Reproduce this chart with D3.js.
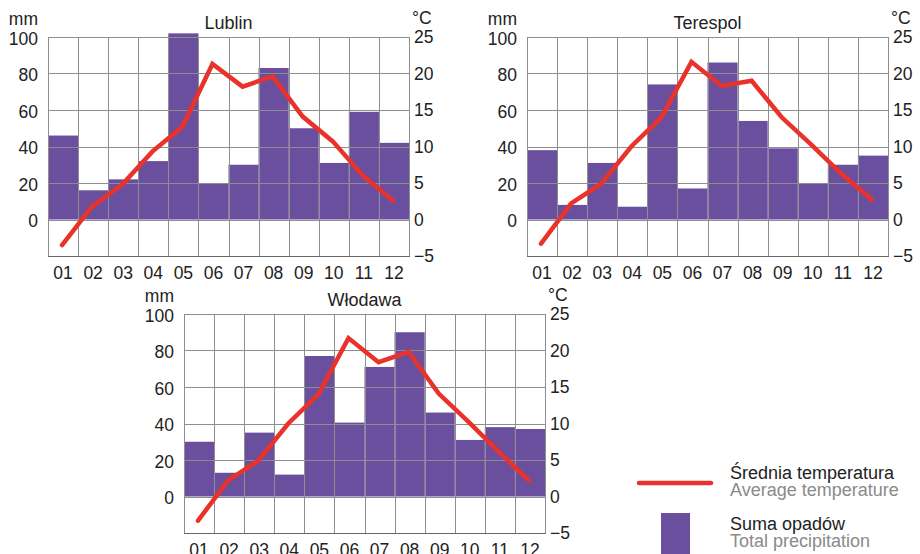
<!DOCTYPE html>
<html>
<head>
<meta charset="utf-8">
<script src="https://cdn.jsdelivr.net/npm/d3@7"></script>
<style>
  html, body { margin: 0; padding: 0; background: #fff; }
  svg { display: block; font-family: "Liberation Sans", Arial, sans-serif; }
</style>
</head>
<body>
<svg id="chart" width="920" height="554"></svg>
<script>
// ---- data ----
const months = ["01","02","03","04","05","06","07","08","09","10","11","12"];
const precipTicks = [0, 20, 40, 60, 80, 100];
const tempTicks = [-5, 0, 5, 10, 15, 20, 25];

const lublinPrecip = [46, 16, 22, 32, 102, 20, 30, 83, 50, 31, 59, 42];
const lublinTemp   = [-3.5, 1.8, 4.8, 9.3, 12.7, 21.3, 18.2, 19.6, 14.1, 10.7, 6.0, 2.6];

const terespolPrecip = [38, 8, 31, 7, 74, 17, 86, 54, 39, 20, 30, 35];
const terespolTemp   = [-3.3, 2.2, 4.9, 10.0, 14.0, 21.6, 18.3, 19.0, 14.0, 10.2, 6.2, 2.7];

const wlodawaPrecip = [30, 13, 35, 12, 77, 40.5, 71, 90, 46, 31, 38, 37];
const wlodawaTemp   = [-3.3, 2.2, 4.9, 10.0, 14.0, 21.7, 18.4, 19.8, 14.1, 10.2, 6.1, 2.2];

const legendLabels = [
  ["Średnia temperatura", "Average temperature"],
  ["Suma opadów", "Total precipitation"]
];

// ---- styles ----
const BAR = "#6a4f9f";
const LINE = "#e8322a";
const GRID = "#8e8e8e";
const AXIS = "#666";
const TEXT = "#222";
const FS = 17.5;

const svg = d3.select("#chart");

function drawChart(cfg) {
  const { title, precip, temp, left, top } = cfg;
  const width = 361, height = 219;
  const g = svg.append("g").attr("transform", `translate(${left},${top})`);

  const x = d3.scaleBand().domain(months).range([0, width]).padding(0);
  const y = d3.scaleLinear().domain([-20, 100]).range([height, 0]);
  const yT = d3.scaleLinear().domain([-5, 25]).range([height, 0]);

  // bars
  g.selectAll("rect.bar").data(precip).join("rect")
    .attr("class", "bar")
    .attr("x", (d, i) => x(months[i]))
    .attr("width", x.bandwidth())
    .attr("y", d => y(d))
    .attr("height", d => y(0) - y(d))
    .attr("fill", BAR);

  // horizontal grid
  g.selectAll("line.hg").data(precipTicks).join("line")
    .attr("class", "hg")
    .attr("x1", 0).attr("x2", width)
    .attr("y1", d => Math.round(y(d)) + 0.5).attr("y2", d => Math.round(y(d)) + 0.5)
    .attr("stroke", GRID).attr("stroke-width", 1);

  // vertical grid (column boundaries)
  const bounds = months.map(m => x(m)).concat([width]);
  g.selectAll("line.vg").data(bounds).join("line")
    .attr("class", "vg")
    .attr("x1", d => Math.round(d) + 0.5).attr("x2", d => Math.round(d) + 0.5)
    .attr("y1", y(100)).attr("y2", y(-20))
    .attr("stroke", GRID).attr("stroke-width", 1);

  // bottom axis line
  g.append("line")
    .attr("x1", 0).attr("x2", width + 1)
    .attr("y1", Math.round(y(-20)) + 0.5).attr("y2", Math.round(y(-20)) + 0.5)
    .attr("stroke", AXIS).attr("stroke-width", 1.2);

  // left axis labels
  const la = g.append("g").call(d3.axisLeft(y).tickValues(precipTicks).tickSize(0).tickPadding(10).tickFormat(d3.format("d")));
  la.select(".domain").remove();
  la.selectAll("text").attr("font-size", FS).attr("fill", TEXT)
    .attr("font-family", "Liberation Sans, Arial, sans-serif").attr("dy", "0.42em");

  // right axis labels
  const ra = g.append("g").attr("transform", `translate(${width},0)`)
    .call(d3.axisRight(yT).tickValues(tempTicks).tickSize(0).tickPadding(5).tickFormat(d3.format("d")));
  ra.select(".domain").remove();
  ra.selectAll("text").attr("font-size", FS).attr("fill", TEXT)
    .attr("font-family", "Liberation Sans, Arial, sans-serif").attr("dy", "0.34em");

  // bottom axis labels
  const ba = g.append("g").attr("transform", `translate(0,${height})`)
    .call(d3.axisBottom(x).tickSize(0).tickPadding(0));
  ba.select(".domain").remove();
  ba.selectAll("text").attr("font-size", FS).attr("fill", TEXT)
    .attr("font-family", "Liberation Sans, Arial, sans-serif").attr("dy", "23px");

  // units
  g.append("text").attr("x", -10).attr("y", -12).attr("text-anchor", "end")
    .attr("font-size", FS).attr("fill", TEXT).text("mm");
  g.append("text").attr("x", width + 3).attr("y", -13).attr("text-anchor", "start")
    .attr("font-size", FS).attr("fill", TEXT).text("°C");

  // title
  g.append("text").attr("x", width / 2).attr("y", -8).attr("text-anchor", "middle")
    .attr("font-size", 18).attr("fill", TEXT).text(title);

  // temperature line
  const line = d3.line()
    .x((d, i) => x(months[i]) + x.bandwidth() / 2 - 1)
    .y(d => yT(d));
  g.append("path").datum(temp)
    .attr("d", line)
    .attr("fill", "none")
    .attr("stroke", LINE)
    .attr("stroke-width", 4.5)
    .attr("stroke-linejoin", "miter")
    .attr("stroke-linecap", "round");
}

drawChart({ title: "Lublin", precip: lublinPrecip, temp: lublinTemp, left: 48, top: 37 });
drawChart({ title: "Terespol", precip: terespolPrecip, temp: terespolTemp, left: 527, top: 37 });
drawChart({ title: "Włodawa", precip: wlodawaPrecip, temp: wlodawaTemp, left: 184, top: 314 });

// legend
const lg = svg.append("g");
lg.append("line").attr("x1", 639).attr("x2", 711).attr("y1", 483).attr("y2", 483)
  .attr("stroke", LINE).attr("stroke-width", 4.5).attr("stroke-linecap", "round");
lg.append("rect").attr("x", 661).attr("y", 513).attr("width", 29).attr("height", 45).attr("fill", BAR);
legendLabels.forEach((pair, i) => {
  const yb = i === 0 ? 479 : 530;
  lg.append("text").attr("x", 730).attr("y", yb).attr("font-size", 18).attr("fill", TEXT).text(pair[0]);
  lg.append("text").attr("x", 730).attr("y", yb + 17).attr("font-size", 18).attr("fill", "#8a8a8a").text(pair[1]);
});
</script>
</body>
</html>
